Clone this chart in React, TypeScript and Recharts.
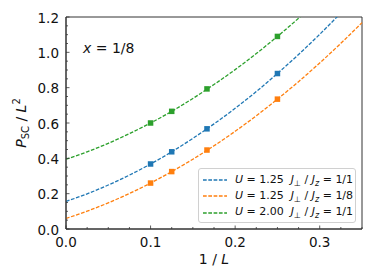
import { ComposedChart, Line, Scatter, XAxis, YAxis, ReferenceArea } from 'recharts';

const fitX = [0, 0.025, 0.05, 0.075, 0.1, 0.125, 0.15, 0.175, 0.2, 0.225, 0.25, 0.275, 0.3, 0.325, 0.35];
const fitBlue = [0.156, 0.199, 0.249, 0.305, 0.368, 0.437, 0.513, 0.595, 0.683, 0.778, 0.88, 0.988, 1.102, 1.223, 1.35];
const fitOrange = [0.06, 0.101, 0.148, 0.201, 0.26, 0.325, 0.395, 0.471, 0.553, 0.641, 0.735, 0.834, 0.94, 1.051, 1.168];
const fitGreen = [0.395, 0.437, 0.485, 0.54, 0.6, 0.666, 0.739, 0.818, 0.902, 0.993, 1.09, 1.193, 1.302, 1.417, 1.54];

const invL = [0.1, 0.125, 0.1667, 0.25];
const ptsBlue = [0.368, 0.437, 0.567, 0.88];
const ptsOrange = [0.26, 0.325, 0.447, 0.735];
const ptsGreen = [0.6, 0.666, 0.793, 1.09];

const xTicks = [0, 0.025, 0.05, 0.075, 0.1, 0.125, 0.15, 0.175, 0.2, 0.225, 0.25, 0.275, 0.3, 0.325, 0.35];
const xMajor = [0, 0.1, 0.2, 0.3];
const yTicks = [0, 0.05, 0.1, 0.15, 0.2, 0.25, 0.3, 0.35, 0.4, 0.45, 0.5, 0.55, 0.6, 0.65, 0.7, 0.75, 0.8, 0.85, 0.9, 0.95, 1.0, 1.05, 1.1, 1.15, 1.2];
const yMajor = [0, 0.2, 0.4, 0.6, 0.8, 1.0, 1.2];

const series = [
  { name: 'blue', color: '#1f77b4', fit: fitBlue, pts: ptsBlue, U: '1.25', ratio: '1/1' },
  { name: 'orange', color: '#ff7f0e', fit: fitOrange, pts: ptsOrange, U: '1.25', ratio: '1/8' },
  { name: 'green', color: '#2ca02c', fit: fitGreen, pts: ptsGreen, U: '2.00', ratio: '1/1' },
];

const FONT = '"DejaVu Sans", sans-serif';
const AXIS = '#333';

function XTick({ x, y, payload }: any) {
  const major = xMajor.includes(payload.value);
  return (
    <g>
      <line x1={x} x2={x} y1={y} y2={y - (major ? 3.5 : 2)} stroke={AXIS} strokeWidth={0.8} />
      {major && (
        <text x={x} y={y + 18} textAnchor="middle" fontSize={13.5} fontFamily={FONT} fill="#111">
          {payload.value.toFixed(1)}
        </text>
      )}
    </g>
  );
}

function YTick({ x, y, payload }: any) {
  const major = yMajor.includes(payload.value);
  return (
    <g>
      <line x1={x} x2={x + (major ? 3.5 : 2)} y1={y} y2={y} stroke={AXIS} strokeWidth={0.8} />
      {major && (
        <text x={x - 7} y={y + 5.5} textAnchor="end" fontSize={13.5} fontFamily={FONT} fill="#111">
          {payload.value.toFixed(1)}
        </text>
      )}
    </g>
  );
}

function Square(props: any) {
  const { cx, cy, fill } = props;
  return <rect x={cx - 2.75} y={cy - 2.75} width={5.5} height={5.5} fill={fill} />;
}

export default function App() {
  return (
    <div style={{ position: 'absolute', left: 0, top: 0, width: 374, height: 280, background: '#fff' }}>
      <ComposedChart width={374} height={280} margin={{ top: 17, right: 12, bottom: 0, left: 0 }}>
        <XAxis
          dataKey="x"
          type="number"
          domain={[0, 0.35]}
          ticks={xTicks}
          interval={0}
          height={51}
          tickSize={0}
          tickMargin={0}
          tick={<XTick />}
          axisLine={{ stroke: AXIS }}
          label={(p: any) => (
            <text x={p.viewBox.x + p.viewBox.width / 2} y={p.viewBox.y + 35} textAnchor="middle" fontSize={14} fontFamily={FONT} fill="#111">
              1 / <tspan fontStyle="italic">L</tspan>
            </text>
          )}
        />
        <YAxis
          type="number"
          domain={[0, 1.2]}
          allowDataOverflow
          ticks={yTicks}
          interval={0}
          width={66}
          tickSize={0}
          tickMargin={0}
          tick={<YTick />}
          axisLine={{ stroke: AXIS }}
          label={(p: any) => {
            const cx = p.viewBox.x + 26;
            const cy = p.viewBox.y + p.viewBox.height / 2;
            return (
              <text x={cx} y={cy} transform={`rotate(-90 ${cx} ${cy})`} textAnchor="middle" fontSize={14} fontFamily={FONT} fill="#111">
                <tspan fontStyle="italic">P</tspan>
                <tspan fontSize={10} dy={3}>SC</tspan>
                <tspan dy={-3}> / </tspan>
                <tspan fontStyle="italic">L</tspan>
                <tspan fontSize={10} dy={-6}>2</tspan>
              </text>
            );
          }}
        />
        <ReferenceArea x1={0} x2={0.35} y1={0} y2={1.2} fill="none" stroke={AXIS} strokeWidth={1} />
        {series.map((s) => (
          <Line
            key={'fit-' + s.name}
            data={fitX.map((x, i) => ({ x, y: s.fit[i] }))}
            dataKey="y"
            type="monotone"
            stroke={s.color}
            strokeWidth={1.3}
            strokeDasharray="3.7 1.6"
            dot={false}
            activeDot={false}
            isAnimationActive={false}
          />
        ))}
        {series.map((s) => (
          <Scatter
            key={'pts-' + s.name}
            data={invL.map((x, i) => ({ x, y: s.pts[i] }))}
            dataKey="y"
            fill={s.color}
            shape={<Square />}
            isAnimationActive={false}
          />
        ))}
      </ComposedChart>
      <svg width={374} height={280} style={{ position: 'absolute', left: 0, top: 0, pointerEvents: 'none' }}>
        <text x={83} y={53} fontSize={14} fontFamily={FONT} fill="#111">
          <tspan fontStyle="italic">x</tspan> = 1/8
        </text>
      </svg>
      <div
        style={{
          position: 'absolute',
          left: 198,
          top: 168,
          width: 158,
          height: 55,
          border: '1px solid #d0d0d0',
          borderRadius: 3,
          background: 'rgba(255,255,255,0.85)',
          fontFamily: FONT,
          fontSize: 11,
          color: '#111',
          boxSizing: 'border-box',
          paddingTop: 3,
        }}
      >
        {series.map((s) => (
          <div key={s.name} style={{ display: 'flex', alignItems: 'center', height: 16.3, whiteSpace: 'nowrap' }}>
            <svg width={36} height={10} style={{ flex: 'none' }}>
              <line x1={4} x2={28} y1={5} y2={5} stroke={s.color} strokeWidth={1.3} strokeDasharray="3.7 1.6" />
            </svg>
            <span>
              <i>U</i> = {s.U}&nbsp;&nbsp;<i>J</i>
              <sub style={{ fontSize: 8 }}>⊥</sub> / <i>J</i>
              <sub style={{ fontSize: 8 }}><i>z</i></sub> = {s.ratio}
            </span>
          </div>
        ))}
      </div>
    </div>
  );
}
